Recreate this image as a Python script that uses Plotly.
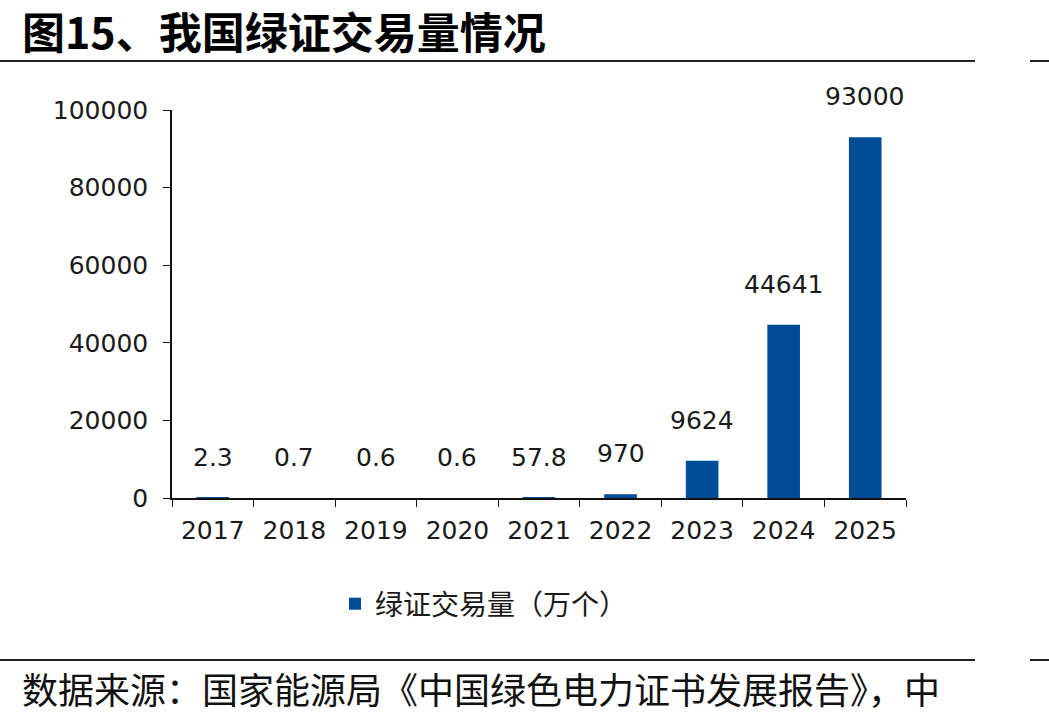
import plotly.graph_objects as go

years = ["2017", "2018", "2019", "2020", "2021", "2022", "2023", "2024", "2025"]
values = [2.3, 0.7, 0.6, 0.6, 57.8, 970, 9624, 44641, 93000]
labels = ["2.3", "0.7", "0.6", "0.6", "57.8", "970", "9624", "44641", "93000"]
series_name = "绿证交易量（万个）"
title_text = "图15、我国绿证交易量情况"
source_text = "数据来源：国家能源局《中国绿色电力证书发展报告》，中"

W, H = 1049, 721
L, R, T, B = 172, 906, 110, 498
pw, ph = R - L, B - T

def px(x):
    return (x - L) / pw

def py(y):
    return (B - y) / ph

bar_color = "#004C97"
num_font = "DejaVu Sans, sans-serif"
cjk_font = "Noto Sans CJK SC, sans-serif"
txt_color = "#1a1a1a"

fig = go.Figure()
fig.add_trace(go.Bar(
    x=years, y=values, name=series_name,
    marker=dict(color=bar_color, line=dict(width=0)),
    width=0.4,
))

for i, (v, lab) in enumerate(zip(values, labels)):
    fig.add_annotation(x=i, y=v, text=lab, showarrow=False,
                       yanchor="bottom", yshift=24,
                       font=dict(family=num_font, size=25, color=txt_color))

fig.add_annotation(xref="paper", yref="paper", x=px(20), y=py(30),
                   xanchor="left", yanchor="middle", text="<b>" + title_text + "</b>",
                   showarrow=False, font=dict(family=cjk_font, size=43, color="#000"))
fig.add_annotation(xref="paper", yref="paper", x=px(20), y=py(688),
                   xanchor="left", yanchor="middle", text=source_text,
                   showarrow=False, font=dict(family=cjk_font, size=36, color="#111"))

for yy in (61, 660):
    fig.add_shape(type="line", xref="paper", yref="paper",
                  x0=px(0), x1=px(975), y0=py(yy), y1=py(yy),
                  line=dict(color="#222", width=2))
    fig.add_shape(type="line", xref="paper", yref="paper",
                  x0=px(1030), x1=px(1049), y0=py(yy), y1=py(yy),
                  line=dict(color="#222", width=2))

fig.update_layout(
    width=W, height=H,
    margin=dict(l=L, r=W - R, t=T, b=H - B, autoexpand=False),
    paper_bgcolor="white", plot_bgcolor="white",
    showlegend=True,
    legend=dict(orientation="h", x=px(484), y=py(604), xanchor="center", yanchor="middle",
                font=dict(family=cjk_font, size=28, color=txt_color),
                itemwidth=30),
    xaxis=dict(type="category", range=[-0.5, len(years) - 0.5],
               showline=True, linecolor="#111", linewidth=1.5,
               ticks="outside", tickson="boundaries", ticklen=7, tickcolor="#111",
               ticklabelstandoff=9,
               tickfont=dict(family=num_font, size=25, color=txt_color),
               showgrid=False, fixedrange=True),
    yaxis=dict(range=[0, 100000], dtick=20000, showline=True, linecolor="#111", linewidth=1.5,
               ticks="outside", ticklen=7, tickcolor="#111", showgrid=False, zeroline=False,
               tickformat="d", ticklabelstandoff=10,
               tickfont=dict(family=num_font, size=25, color=txt_color)),
)

fig.write_html("out.html")
